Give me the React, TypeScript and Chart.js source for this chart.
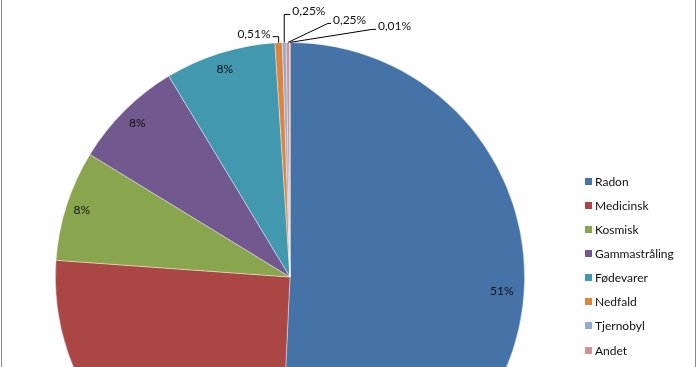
import React, { useEffect, useRef } from "react";
import { Chart, registerables } from "chart.js";

Chart.register(...registerables);

const categories = [
  "Radon",
  "Medicinsk",
  "Kosmisk",
  "Gammastråling",
  "Fødevarer",
  "Nedfald",
  "Tjernobyl",
  "Andet",
  "Kernekraft",
];
// annual dose (mSv) per source
const doses = [2.0, 1.0, 0.3, 0.3, 0.3, 0.02, 0.01, 0.01, 0.0004];
const colors = [
  "#4572A7",
  "#AA4643",
  "#89A54E",
  "#71588F",
  "#4198AF",
  "#DB843D",
  "#93A9CF",
  "#D19392",
  "#B9CD96",
];

const FONT = "Lato, 'Open Sans', sans-serif";

// label layout (style config, not data)
const insideLabel: Record<number, { frac: number; shift: number }> = {
  0: { frac: 0.905, shift: 2.5 },
  1: { frac: 0.92, shift: 0 },
  2: { frac: 0.932, shift: 0 },
  3: { frac: 0.923, shift: 0 },
  4: { frac: 0.928, shift: 0 },
};
const leaderLabel: Record<number, { ex: number; ey: number; tx: number; align: "left" | "right" }> = {
  5: { ex: 0, ey: -6, tx: -6, align: "right" },
  6: { ex: 0, ey: -28, tx: 6, align: "left" },
  7: { ex: 40, ey: -19, tx: 3, align: "left" },
  8: { ex: 82, ey: -13, tx: 4, align: "left" },
};

function fmt(p: number): string {
  if (p >= 1) return Math.round(p) + "%";
  return p.toFixed(2).replace(".", ",") + "%";
}

const labelPlugin = {
  id: "pieLabels",
  afterDatasetsDraw(chart: any) {
    const ctx = chart.ctx as CanvasRenderingContext2D;
    const meta = chart.getDatasetMeta(0);
    const data = chart.data.datasets[0].data as number[];
    const total = data.reduce((a, b) => a + b, 0);
    ctx.save();
    ctx.font = `12px ${FONT}`;
    ctx.fillStyle = "#111";
    ctx.strokeStyle = "#000";
    ctx.lineWidth = 1;
    meta.data.forEach((arc: any, i: number) => {
      const p = arc.getProps(["x", "y", "startAngle", "endAngle", "outerRadius"], true);
      const mid = (p.startAngle + p.endAngle) / 2;
      const pct = (data[i] / total) * 100;
      const text = fmt(pct);
      if (insideLabel[i]) {
        const cfg = insideLabel[i];
        const a = mid + (cfg.shift * Math.PI) / 180;
        const r = p.outerRadius * cfg.frac;
        ctx.textAlign = "center";
        ctx.textBaseline = "middle";
        ctx.fillText(text, p.x + Math.cos(a) * r, p.y + Math.sin(a) * r);
      } else if (leaderLabel[i]) {
        const cfg = leaderLabel[i];
        const ax = p.x + Math.cos(mid) * p.outerRadius;
        const ay = p.y + Math.sin(mid) * p.outerRadius;
        const ex = ax + cfg.ex;
        const ey = ay + cfg.ey;
        const tx = ex + cfg.tx;
        ctx.beginPath();
        ctx.moveTo(ax, ay);
        ctx.lineTo(ex, ey);
        ctx.lineTo(tx, ey);
        ctx.stroke();
        ctx.textBaseline = "middle";
        ctx.textAlign = cfg.align;
        const gx = cfg.align === "left" ? tx + 2 : tx - 2;
        ctx.fillText(text, gx, ey - 3);
      }
    });
    ctx.restore();
  },
};

export default function App() {
  const ref = useRef<HTMLCanvasElement | null>(null);
  useEffect(() => {
    if (!ref.current) return;
    const chart = new Chart(ref.current, {
      type: "pie",
      data: {
        labels: categories,
        datasets: [
          {
            data: doses,
            backgroundColor: colors,
            borderColor: "rgba(255,255,255,0.5)",
            borderWidth: 0.8,
          },
        ],
      },
      options: {
        responsive: false,
        animation: false,
        devicePixelRatio: 1,
        layout: { padding: { left: 55, right: 173, top: 42, bottom: 48 } },
        plugins: {
          legend: { display: false },
          tooltip: { enabled: false },
        },
      },
      plugins: [labelPlugin],
    });
    return () => chart.destroy();
  }, []);

  return (
    <div
      style={{
        position: "fixed",
        left: 0,
        top: 0,
        width: 698,
        height: 367,
        overflow: "hidden",
        background: "#fff",
      }}
    >
      <canvas
        ref={ref}
        width={698}
        height={560}
        style={{ position: "absolute", left: 0, top: 0, width: 698, height: 560 }}
      />
      <div style={{ position: "absolute", left: 1, top: 0, width: 1, height: 367, background: "#8a8a8a" }} />
      <div style={{ position: "absolute", left: 695, top: 0, width: 1, height: 367, background: "#8a8a8a" }} />
      {categories.map((c, i) => (
        <div
          key={c}
          style={{
            position: "absolute",
            left: 585,
            top: 181 + i * 24.15 - 8,
            height: 16,
            display: "flex",
            alignItems: "center",
            font: `12px ${FONT}`,
            color: "#111",
            whiteSpace: "nowrap",
          }}
        >
          <span style={{ width: 7, height: 7, background: colors[i], display: "inline-block", marginRight: 3 }} />
          <span>{c}</span>
        </div>
      ))}
    </div>
  );
}
